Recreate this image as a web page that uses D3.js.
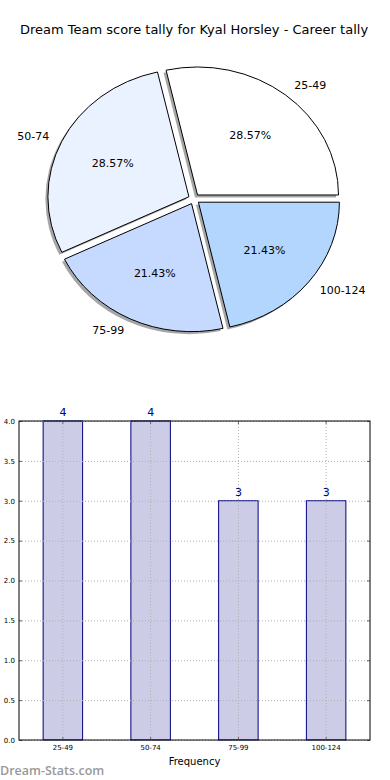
<!DOCTYPE html>
<html>
<head>
<meta charset="utf-8">
<script src="https://cdn.jsdelivr.net/npm/d3@7"></script>
<style>
  body { margin: 0; background: #fff; }
  svg { display: block; font-family: "DejaVu Sans", sans-serif; }
</style>
</head>
<body>
<svg id="chart" width="390" height="780"></svg>
<script>
const title = "Dream Team score tally for Kyal Horsley - Career tally";
const categories = ["25-49", "50-74", "75-99", "100-124"];
const counts = [4, 4, 3, 3];
const sliceColors = ["#ffffff", "#eaf1ff", "#c6d9ff", "#b3d6ff"];
const yTicks = [0, 0.5, 1, 1.5, 2, 2.5, 3, 3.5, 4];
const xLabel = "Frequency";
const watermark = "Dream-Stats.com";

const svg = d3.select("#chart");

svg.append("text")
  .attr("x", 194).attr("y", 34)
  .attr("text-anchor", "middle")
  .style("font-size", "13px")
  .text(title);

// ---- pie (matplotlib style, ellipse because axes aren't equal)
const pie = {cx: 194, cy: 199, rx: 141, ry: 128, explode: 0.04};
const total = d3.sum(counts);

const arcs = d3.pie().sort(null)
  .startAngle(Math.PI / 2)
  .endAngle(Math.PI / 2 - 2 * Math.PI)(counts);

const unitArc = d3.arc().innerRadius(0).outerRadius(1);

const pieG = svg.append("g")
  .attr("transform", `translate(${pie.cx},${pie.cy})`);

function offset(d, r) {
  const a = (d.startAngle + d.endAngle) / 2;
  return [Math.sin(a) * r * pie.rx, -Math.cos(a) * r * pie.ry];
}

// shadows first
pieG.selectAll(".shadow")
  .data(arcs)
  .join("path")
  .attr("class", "shadow")
  .attr("d", unitArc)
  .attr("transform", (d) => {
    const [dx, dy] = offset(d, pie.explode);
    return `translate(${dx - 2.5},${dy + 2.5}) scale(${pie.rx},${pie.ry})`;
  })
  .attr("fill", "#4d4d4d")
  .attr("fill-opacity", 0.5);

pieG.selectAll(".wedge")
  .data(arcs)
  .join("path")
  .attr("class", "wedge")
  .attr("d", unitArc)
  .attr("transform", (d) => {
    const [dx, dy] = offset(d, pie.explode);
    return `translate(${dx},${dy}) scale(${pie.rx},${pie.ry})`;
  })
  .attr("fill", (d, i) => sliceColors[i])
  .attr("stroke", "#000")
  .attr("stroke-width", 1)
  .attr("vector-effect", "non-scaling-stroke");

// outer labels
pieG.selectAll(".lbl")
  .data(arcs)
  .join("text")
  .attr("class", "lbl")
  .attr("x", (d) => offset(d, pie.explode)[0] + offset(d, 1.1)[0])
  .attr("y", (d) => offset(d, pie.explode)[1] + offset(d, 1.1)[1])
  .attr("dy", "0.35em")
  .attr("text-anchor", (d) => (offset(d, 1)[0] > 0 ? "start" : "end"))
  .style("font-size", "11px")
  .text((d, i) => categories[i]);

// percentages
pieG.selectAll(".pct")
  .data(arcs)
  .join("text")
  .attr("class", "pct")
  .attr("x", (d) => offset(d, pie.explode)[0] + offset(d, 0.6)[0])
  .attr("y", (d) => offset(d, pie.explode)[1] + offset(d, 0.6)[1])
  .attr("dy", "0.35em")
  .attr("text-anchor", "middle")
  .style("font-size", "11px")
  .text((d) => (d.value / total * 100).toFixed(2) + "%");

// ---- bar chart
const margin = {top: 421, left: 19};
const width = 351;
const height = 319;

const g = svg.append("g")
  .attr("transform", `translate(${margin.left},${margin.top})`);

const xScale = d3.scaleBand()
  .domain(categories)
  .range([0, width])
  .paddingInner(0.55)
  .paddingOuter(0.275);

const yScale = d3.scaleLinear()
  .domain([0, 4])
  .range([height, 0]);

g.selectAll("rect.bar")
  .data(counts)
  .join("rect")
  .attr("class", "bar")
  .attr("x", (d, i) => xScale(categories[i]))
  .attr("width", xScale.bandwidth())
  .attr("y", (d) => yScale(d))
  .attr("height", (d) => height - yScale(d))
  .attr("fill", "#ccccE6")
  .attr("stroke", "#000080")
  .attr("stroke-width", 1);

// dotted grid on top of the bars
const gridStyle = (sel) => sel
  .attr("stroke", "#b0b0b0")
  .attr("stroke-width", 1)
  .attr("stroke-dasharray", "1,2");

g.selectAll(".hgrid")
  .data(yTicks)
  .join("line")
  .attr("class", "hgrid")
  .attr("x1", 0).attr("x2", width)
  .attr("y1", (d) => yScale(d) + 0.5).attr("y2", (d) => yScale(d) + 0.5)
  .call(gridStyle);

g.selectAll(".vgrid")
  .data(categories)
  .join("line")
  .attr("class", "vgrid")
  .attr("x1", (d) => xScale(d) + xScale.bandwidth() / 2)
  .attr("x2", (d) => xScale(d) + xScale.bandwidth() / 2)
  .attr("y1", 0).attr("y2", height)
  .call(gridStyle);

// axes with inward ticks
const yAxis = g.append("g")
  .call(d3.axisLeft(yScale).tickValues(yTicks).tickFormat(d3.format(".1f"))
    .tickSizeInner(-3).tickSizeOuter(0).tickPadding(4));
const yAxisR = g.append("g")
  .attr("transform", `translate(${width},0)`)
  .call(d3.axisRight(yScale).tickValues(yTicks).tickFormat("")
    .tickSizeInner(-3).tickSizeOuter(0));
const xAxis = g.append("g")
  .attr("transform", `translate(0,${height})`)
  .call(d3.axisBottom(xScale).tickSizeInner(-3).tickSizeOuter(0).tickPadding(5));
const xAxisT = g.append("g")
  .call(d3.axisTop(xScale).tickFormat("").tickSizeInner(-3).tickSizeOuter(0));

[yAxis, yAxisR, xAxis, xAxisT].forEach((ax) => {
  ax.select(".domain").remove();
  ax.selectAll(".tick line").attr("stroke", "#666");
  ax.selectAll("text")
    .style("font-family", "'DejaVu Sans', sans-serif")
    .style("font-size", "7px")
    .attr("fill", "#000");
});

g.append("rect")
  .attr("width", width).attr("height", height)
  .attr("fill", "none")
  .attr("stroke", "#000")
  .attr("stroke-width", 1);

// value labels
g.selectAll(".val")
  .data(counts)
  .join("text")
  .attr("class", "val")
  .attr("x", (d, i) => xScale(categories[i]) + xScale.bandwidth() / 2)
  .attr("y", (d) => yScale(d) - 5)
  .attr("text-anchor", "middle")
  .attr("fill", "#000080")
  .style("font-size", "11px")
  .text((d) => d);

svg.append("text")
  .attr("x", margin.left + width / 2).attr("y", 765)
  .attr("text-anchor", "middle")
  .style("font-size", "10px")
  .text(xLabel);

svg.append("text")
  .attr("x", 0).attr("y", 775)
  .attr("fill", "#999999")
  .style("font-family", "'Open Sans', sans-serif")
  .style("font-size", "12.5px")
  .style("font-weight", "600")
  .text(watermark);
</script>
</body>
</html>
